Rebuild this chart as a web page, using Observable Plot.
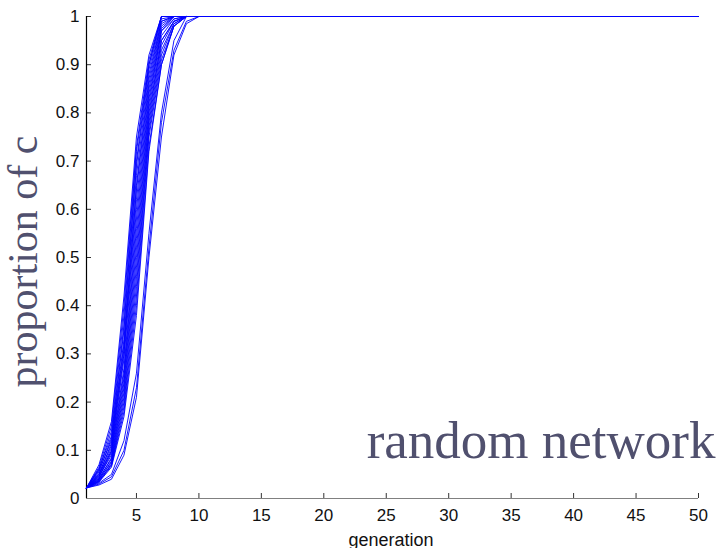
<!DOCTYPE html>
<html>
<head>
<meta charset="utf-8">
<script src="https://cdn.jsdelivr.net/npm/d3@7"></script>
<script src="https://cdn.jsdelivr.net/npm/@observablehq/plot@0.6"></script>
<style>
  html, body { margin: 0; padding: 0; background: #fff; }
  #chart { width: 723px; height: 548px; }
</style>
</head>
<body>
<div id="chart"></div>
<script>
const generations = [1, 2, 3, 4, 5, 6, 7, 8, 9, 10, 50];

const runs = [
  [0.022, 0.070, 0.160, 0.420, 0.750, 0.920, 1.000, 1, 1, 1, 1],
  [0.022, 0.065, 0.150, 0.400, 0.730, 0.910, 1.000, 1, 1, 1, 1],
  [0.022, 0.060, 0.140, 0.380, 0.720, 0.900, 1.000, 1, 1, 1, 1],
  [0.022, 0.062, 0.130, 0.360, 0.700, 0.900, 1.000, 1, 1, 1, 1],
  [0.022, 0.055, 0.125, 0.350, 0.690, 0.890, 0.995, 1, 1, 1, 1],
  [0.022, 0.058, 0.120, 0.330, 0.670, 0.880, 0.990, 1, 1, 1, 1],
  [0.022, 0.050, 0.115, 0.320, 0.650, 0.870, 0.990, 1, 1, 1, 1],
  [0.022, 0.052, 0.110, 0.310, 0.640, 0.860, 0.985, 1, 1, 1, 1],
  [0.022, 0.048, 0.105, 0.300, 0.620, 0.850, 0.980, 1, 1, 1, 1],
  [0.022, 0.045, 0.100, 0.290, 0.600, 0.840, 0.975, 1, 1, 1, 1],
  [0.022, 0.050, 0.098, 0.270, 0.580, 0.830, 0.970, 1, 1, 1, 1],
  [0.022, 0.043, 0.095, 0.260, 0.560, 0.820, 0.970, 0.995, 1, 1, 1],
  [0.022, 0.046, 0.090, 0.250, 0.540, 0.810, 0.960, 0.995, 1, 1, 1],
  [0.022, 0.040, 0.085, 0.240, 0.520, 0.800, 0.950, 0.990, 1, 1, 1],
  [0.022, 0.042, 0.082, 0.230, 0.500, 0.790, 0.950, 0.990, 1, 1, 1],
  [0.022, 0.038, 0.078, 0.220, 0.480, 0.780, 0.940, 0.990, 1, 1, 1],
  [0.022, 0.040, 0.075, 0.210, 0.460, 0.770, 0.930, 0.985, 1, 1, 1],
  [0.022, 0.036, 0.072, 0.200, 0.440, 0.760, 0.920, 0.985, 1, 1, 1],
  [0.022, 0.037, 0.070, 0.190, 0.420, 0.750, 0.910, 0.980, 1, 1, 1],
  [0.022, 0.035, 0.068, 0.180, 0.400, 0.730, 0.900, 0.980, 1, 1, 1],
  [0.022, 0.034, 0.065, 0.170, 0.380, 0.720, 0.900, 0.980, 1, 1, 1],
  [0.022, 0.032, 0.050, 0.120, 0.260, 0.550, 0.800, 0.950, 1.000, 1, 1],
  [0.022, 0.030, 0.045, 0.100, 0.230, 0.520, 0.780, 0.930, 0.990, 1, 1],
  [0.022, 0.028, 0.040, 0.090, 0.210, 0.500, 0.750, 0.920, 0.985, 1, 1]
];

const xTicks = [5, 10, 15, 20, 25, 30, 35, 40, 45, 50];
const yTicks = [0, 0.1, 0.2, 0.3, 0.4, 0.5, 0.6, 0.7, 0.8, 0.9, 1];
const yTickLabels = ["0", "0.1", "0.2", "0.3", "0.4", "0.5", "0.6", "0.7", "0.8", "0.9", "1"];

const xLabel = "generation";
const yLabel = "proportion of c";
const annotation = "random network";

const rows = [];
runs.forEach((vals, r) => {
  vals.forEach((v, i) => rows.push({run: r, generation: generations[i], value: v}));
});

const sans = "Liberation Sans, Arial, Helvetica, sans-serif";
const serif = "Liberation Serif, Times New Roman, serif";
const slate = "#50506e";

const chart = Plot.plot({
  width: 723,
  height: 548,
  marginLeft: 86,
  marginRight: 25,
  marginTop: 16,
  marginBottom: 50,
  style: {background: "#fff", fontFamily: sans},
  x: {domain: [1, 50]},
  y: {domain: [0, 1]},
  marks: [
    Plot.axisX({ticks: xTicks, tickSize: -5, tickPadding: 15, fontSize: 17, label: null, stroke: "#333", fill: "#111"}),
    Plot.axisY({ticks: yTicks, tickFormat: (d, i) => yTickLabels[i], tickSize: -5, tickPadding: 12, fontSize: 17, label: null, stroke: "#333", fill: "#111"}),
    Plot.ruleY([0], {stroke: "#808080", strokeWidth: 1.2}),
    Plot.ruleX([1], {stroke: "#000", strokeWidth: 1.2}),
    Plot.line(rows, {x: "generation", y: "value", z: "run", stroke: "#0000ff", strokeWidth: 0.9}),
    Plot.text([xLabel], {frameAnchor: "bottom", text: d => d, dx: -1.5, dy: 47, lineAnchor: "bottom", fontSize: 18, fontFamily: sans, fill: "#111"}),
    Plot.text([yLabel], {frameAnchor: "left", text: d => d, rotate: -90, textAnchor: "middle", dx: -50, dy: 4, lineAnchor: "bottom", fontSize: 42, fontFamily: serif, fill: slate}),
    Plot.text([annotation], {frameAnchor: "bottom-right", text: d => d, textAnchor: "end", dx: 17, dy: -41, lineAnchor: "bottom", fontSize: 53, fontFamily: serif, fill: slate})
  ]
});
document.getElementById("chart").appendChild(chart);
</script>
</body>
</html>
